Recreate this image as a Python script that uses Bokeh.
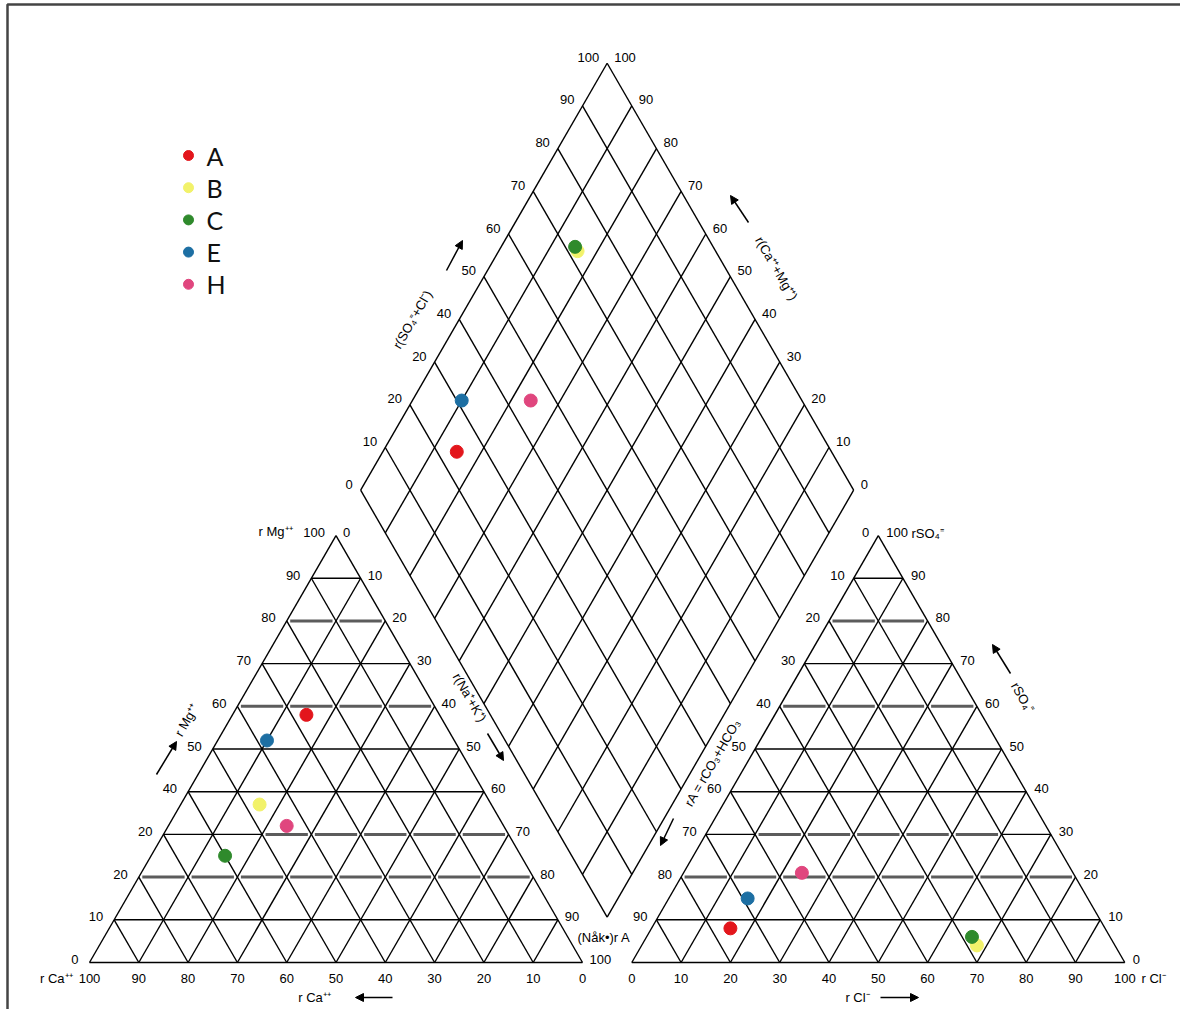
import math
from bokeh.plotting import figure
from bokeh.models import Range1d, Arrow, NormalHead, ColumnDataSource
from bokeh.core.properties import value
from bokeh.embed import file_html
from bokeh.resources import INLINE

# ---- sample chemistry (percent of meq) ----
samples = ["A", "B", "C", "E", "H"]
sample_colors = ["#e3161c", "#f2f26a", "#2f8a2c", "#1d6fa3", "#e0467e"]
# cations
ca = [27, 47, 60, 38, 44]
mg = [58, 37, 25, 52, 32]
na_k = [15, 16, 15, 10, 24]
# anions
hco3 = [76, 28, 28, 69, 55]
so4 = [8, 4, 6, 15, 21]
cl = [16, 68, 66, 16, 24]

# ---- scale labels ----
ticks = [0, 10, 20, 30, 40, 50, 60, 70, 80, 90, 100]
mg_tick_labels = ["0", "10", "20", "20", "40", "50", "60", "70", "80", "90", "100"]
nak_tick_labels = ["0", "10", "20", "30", "40", "50", "60", "70", "80", "90", "100"]
ca_tick_labels = ["0", "10", "20", "30", "40", "50", "60", "70", "80", "90", "100"]
cl_tick_labels = ["0", "10", "20", "30", "40", "50", "60", "70", "80", "90", "100"]
so4_tick_labels = ["0", "10", "20", "30", "40", "50", "60", "70", "80", "90", "100"]
alk_tick_labels = ["0", "10", "20", "30", "40", "50", "60", "70", "80", "90"]
so4cl_tick_labels = ["0", "10", "20", "20", "40", "50", "60", "70", "80", "90", "100"]
camg_tick_labels = ["0", "10", "20", "30", "40", "50", "60", "70", "80", "90", "100"]

# ---- geometry (unit = one triangle side) ----
S = 493.0                 # screen pixels per unit
H = math.sqrt(3) / 2
GAP = 0.1
RX = 1 + GAP              # left corner of the anion triangle
DX, DY = 1 + GAP / 2, 0.092   # bottom vertex of the diamond


def cation_xy(c, m, n):
    return n + m / 2, m * H


def anion_xy(t, s, l):
    return RX + l + s / 2, s * H


def diamond_xy(cm, a):
    return DX + 0.5 * (a - cm), DY + H * (a + cm)


def scr(px, py):
    """screen pixel position -> data units"""
    return (px - 89) / S, (962 - py) / S


def off(pt, dx, dy):
    return pt[0] + dx / S, pt[1] - dy / S


FONT = "Liberation Sans"
LBL = "13px"

p = figure(width=1180, height=1009,
           x_range=Range1d(-89 / S, (1180 - 89) / S),
           y_range=Range1d(-(1009 - 962) / S, 962 / S),
           output_backend="svg", toolbar_location=None, min_border=0,
           x_axis_location=None, y_axis_location=None)
p.grid.visible = False
p.outline_line_color = None
p.background_fill_color = "white"
p.border_fill_color = "white"

blk = dict(x0=[], y0=[], x1=[], y1=[])
gry = dict(x0=[], y0=[], x1=[], y1=[])


def seg(d, a, b):
    d["x0"].append(a[0]); d["y0"].append(a[1])
    d["x1"].append(b[0]); d["y1"].append(b[1])


# outlines
for f in (cation_xy, anion_xy):
    c1, c2, c3 = f(1, 0, 0), f(0, 0, 1), f(0, 1, 0)
    seg(blk, c1, c2); seg(blk, c2, c3); seg(blk, c3, c1)
d1, d2, d3, d4 = diamond_xy(0, 0), diamond_xy(1, 0), diamond_xy(1, 1), diamond_xy(0, 1)
for a, b in ((d1, d2), (d2, d3), (d3, d4), (d4, d1)):
    seg(blk, a, b)

# which horizontal levels are drawn as grey broken bars
LEFT_GRAY = {20: "all", 30: "tail", 60: "all", 80: "all"}
RIGHT_GRAY = {20: "all", 30: "inner", 60: "all", 80: "all"}
TRIM = 3.5 / S


def gray_idx(kind, n):
    if kind == "all":
        return set(range(n))
    if kind == "tail":
        return set(range(2, n))
    return set(range(1, n - 1))


def horizontal(level, to_xy, styles):
    f = level / 100
    nseg = round((100 - level) / 10)
    nodes = [to_xy(k / 10, f) for k in range(nseg + 1)]
    g = gray_idx(styles[level], nseg) if level in styles else set()
    for i in range(nseg):
        a, b = nodes[i], nodes[i + 1]
        if i in g:
            seg(gry, (a[0] + TRIM, a[1]), (b[0] - TRIM, b[1]))
        else:
            seg(blk, a, b)


for t in ticks[1:-1]:
    f = t / 100
    # cation triangle
    seg(blk, cation_xy(1 - f, 0, f), cation_xy(0, 1 - f, f))
    seg(blk, cation_xy(f, 0, 1 - f), cation_xy(f, 1 - f, 0))
    horizontal(t, lambda n, m: cation_xy(1 - m - n, m, n), LEFT_GRAY)
    # anion triangle
    seg(blk, anion_xy(1 - f, 0, f), anion_xy(0, 1 - f, f))
    seg(blk, anion_xy(f, 0, 1 - f), anion_xy(f, 1 - f, 0))
    horizontal(t, lambda l, s: anion_xy(1 - s - l, s, l), RIGHT_GRAY)
    # diamond
    seg(blk, diamond_xy(0, f), diamond_xy(1, f))
    seg(blk, diamond_xy(f, 0), diamond_xy(f, 1))

p.segment(x0="x0", y0="y0", x1="x1", y1="y1", source=ColumnDataSource(gry),
          line_color="#5c5c5c", line_width=3)
p.segment(x0="x0", y0="y0", x1="x1", y1="y1", source=ColumnDataSource(blk),
          line_color="black", line_width=1.4)

# ---- scale labels ----
left_lbl = dict(x=[], y=[], t=[])
right_lbl = dict(x=[], y=[], t=[])
mid_lbl = dict(x=[], y=[], t=[])


def put(d, pt, txt):
    d["x"].append(pt[0]); d["y"].append(pt[1]); d["t"].append(txt)


for v, txt in zip(ticks, mg_tick_labels):
    f = v / 100
    put(right_lbl, off(cation_xy(1 - f, f, 0), -11, -3), txt)
for v, txt in zip(ticks, nak_tick_labels):
    f = v / 100
    put(left_lbl, off(cation_xy(0, 1 - f, f), 7, -3), txt)
for v, txt in zip(ticks, ca_tick_labels):
    f = v / 100
    put(mid_lbl, off(cation_xy(f, 0, 1 - f), 0, 16), txt)
for v, txt in zip(ticks, cl_tick_labels):
    f = v / 100
    put(mid_lbl, off(anion_xy(1 - f, 0, f), 0, 16), txt)
for v, txt in zip(ticks, so4_tick_labels):
    f = v / 100
    put(left_lbl, off(anion_xy(0, f, 1 - f), 8, -3), txt)
for v, txt in zip(ticks, alk_tick_labels):
    f = v / 100
    put(right_lbl, off(anion_xy(f, 1 - f, 0), -9, -3), txt)
for v, txt in zip(ticks, so4cl_tick_labels):
    put(right_lbl, off(diamond_xy(1, v / 100), -8, -6), txt)
for v, txt in zip(ticks, camg_tick_labels):
    put(left_lbl, off(diamond_xy(v / 100, 1), 7, -6), txt)

# corner captions
put(right_lbl, scr(72, 978), "r Ca⁺⁺")
put(right_lbl, scr(292, 531), "r Mg⁺⁺")
put(left_lbl, scr(911, 533), "rSO₄⁼")
put(left_lbl, scr(1141, 978), "r Cl⁻")
put(left_lbl, scr(577, 937), "(Nåk•)r A")
put(mid_lbl, scr(314, 997), "r Ca⁺⁺")
put(mid_lbl, scr(857, 997), "r Cl⁻")

for d, align in ((left_lbl, "left"), (right_lbl, "right"), (mid_lbl, "center")):
    p.text(x="x", y="y", text="t", source=ColumnDataSource(d),
           text_align=align, text_baseline="middle",
           text_font=value(FONT), text_font_size=LBL, text_color="black")

# rotated axis names along the edges
ang = math.pi / 3
titles = [
    ("r(SO₄⁼+Cl⁻)", scr(412, 319), ang),
    ("r(Ca⁺⁺+Mg⁺⁺)", scr(776, 268), -ang),
    ("r(Na⁺+K⁺)", scr(469, 697), -ang),
    ("rA = rCO₃+HCO₃", scr(712, 762), ang),
    ("r Mg⁺⁺", scr(186, 720), ang),
    ("rSO₄⁼", scr(1022, 697), -ang),
]
for txt, pt, a in titles:
    p.text(x=[pt[0]], y=[pt[1]], text=[txt], angle=a,
           text_align="center", text_baseline="middle",
           text_font=value(FONT), text_font_size=LBL, text_color="black")

arrows = [
    ((446, 270), (462, 240)),
    ((748, 222), (730, 195)),
    ((487, 733), (503, 760)),
    ((673, 818), (660, 845)),
    ((156, 774), (176, 741)),
    ((1010, 673), (992, 644)),
    ((392, 997), (355, 997)),
    ((880, 997), (918, 997)),
]
for (a, b) in arrows:
    s0, s1 = scr(*a), scr(*b)
    p.add_layout(Arrow(x_start=s0[0], y_start=s0[1], x_end=s1[0], y_end=s1[1],
                       line_color="black", line_width=1.5,
                       end=NormalHead(size=8, fill_color="black", line_color="black")))

# ---- samples ----
cx, cy, ax, ay, dx, dy = [], [], [], [], [], []
for i in range(len(samples)):
    x, y = cation_xy(ca[i] / 100, mg[i] / 100, na_k[i] / 100)
    cx.append(x); cy.append(y)
    x, y = anion_xy(hco3[i] / 100, so4[i] / 100, cl[i] / 100)
    ax.append(x); ay.append(y)
    x, y = diamond_xy(1 - na_k[i] / 100, (so4[i] + cl[i]) / 100)
    dx.append(x); dy.append(y)

for xs, ys in ((cx, cy), (ax, ay), (dx, dy)):
    p.scatter(x=xs, y=ys, size=13, fill_color=sample_colors,
              line_color=sample_colors, line_width=1)

# ---- legend ----
lx, ly = [], []
tx, ty = [], []
for i in range(len(samples)):
    m = scr(188, 155 + 32.2 * i)
    t = scr(206, 155 + 32.2 * i)
    lx.append(m[0]); ly.append(m[1]); tx.append(t[0]); ty.append(t[1])
p.scatter(x=lx, y=ly, size=10, fill_color=sample_colors, line_color=sample_colors)
p.text(x=tx, y=ty, text=samples, text_align="left", text_baseline="middle",
       text_font=value("Lato"), text_font_size="25px", text_color="#111111")

# ---- frame edge ----
b0, b1, b2 = scr(7, 1009), scr(7, 4), scr(1180, 4)
p.line(x=[b0[0], b1[0], b2[0]], y=[b0[1], b1[1], b2[1]], line_color="#444444", line_width=2.5)

open("out.html", "w").write(file_html(p, INLINE, title="Piper diagram"))
